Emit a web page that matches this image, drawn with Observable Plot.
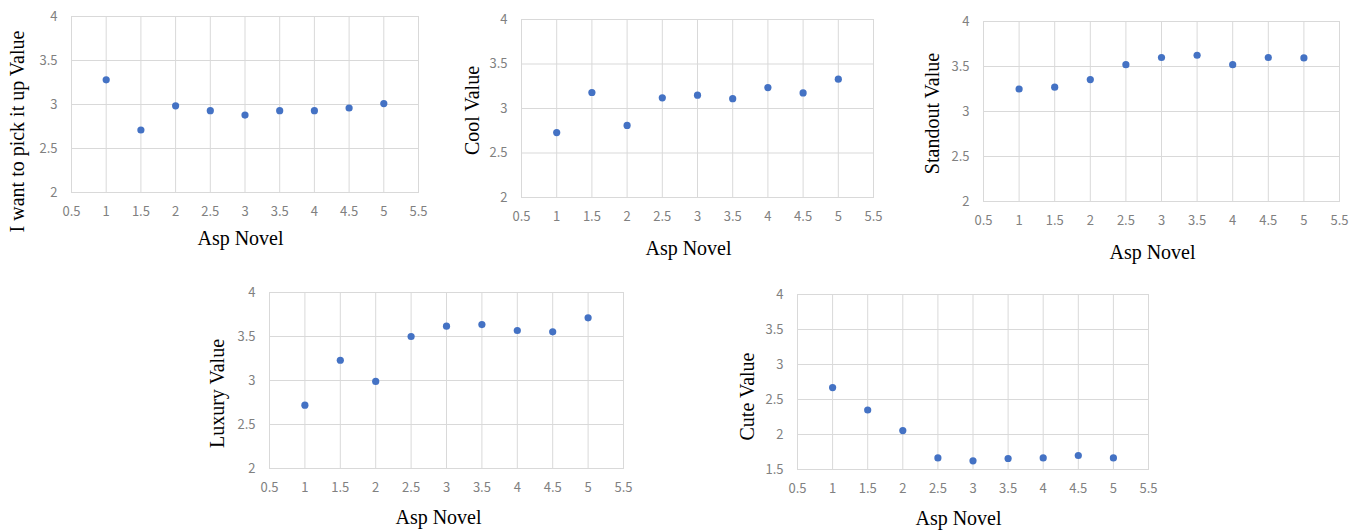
<!DOCTYPE html>
<html><head><meta charset="utf-8">
<script src="https://cdn.jsdelivr.net/npm/d3@7"></script>
<script src="https://cdn.jsdelivr.net/npm/@observablehq/plot@0.6"></script>
<style>
html,body{margin:0;padding:0;background:#fff;}
#page{position:relative;width:1367px;height:531px;overflow:hidden;background:#fff;}
.panel{position:absolute;}
</style></head><body><div id="page"></div>
<script>
// ---- data ----
const aspNovel = [1, 1.5, 2, 2.5, 3, 3.5, 4, 4.5, 5];
const pickUpValue = [3.28, 2.71, 2.985, 2.93, 2.88, 2.93, 2.93, 2.96, 3.01];
const coolValue = [2.73, 3.18, 2.81, 3.12, 3.15, 3.11, 3.235, 3.175, 3.33];
const standoutValue = [3.25, 3.27, 3.355, 3.52, 3.60, 3.625, 3.52, 3.60, 3.595];
const luxuryValue = [2.72, 3.23, 2.99, 3.50, 3.617, 3.636, 3.568, 3.553, 3.712];
const cuteValue = [2.67, 2.35, 2.056, 1.666, 1.624, 1.657, 1.666, 1.70, 1.666];

const xTicks = [0.5, 1, 1.5, 2, 2.5, 3, 3.5, 4, 4.5, 5, 5.5];
const yTicksMain = [2, 2.5, 3, 3.5, 4];
const yTicksCute = [1.5, 2, 2.5, 3, 3.5, 4];
const xTitle = "Asp Novel";
const yTitles = ["I want to pick it up Value", "Cool Value", "Standout Value", "Luxury Value", "Cute Value"];
const seriesList = [pickUpValue, coolValue, standoutValue, luxuryValue, cuteValue];
const yTickList = [yTicksMain, yTicksMain, yTicksMain, yTicksMain, yTicksCute];

// ---- layout (frame: left, top, right, bottom; title centres) ----
const layout = [
  {frame: [71, 16, 418, 192], yTitleAt: [17, 131], xTitleAt: [240, 238]},
  {frame: [521, 19, 873, 197], yTitleAt: [472, 110], xTitleAt: [688, 248]},
  {frame: [983, 21, 1339, 201], yTitleAt: [932, 113], xTitleAt: [1152, 252]},
  {frame: [269, 292, 623, 468], yTitleAt: [217, 393], xTitleAt: [438, 517]},
  {frame: [797, 294, 1148, 469], yTitleAt: [747, 396], xTitleAt: [958, 518]}
];

const page = document.getElementById("page");
const serif = "'Liberation Serif', 'Times New Roman', serif";
const gridColor = "#d9d9d9";

layout.forEach((L, i) => {
  const [fl, ft, fr, fb] = L.frame;
  const yTicks = yTickList[i];
  const left = L.yTitleAt[0] - 16;
  const top = ft - 12;
  const right = fr + 22;
  const bottom = Math.min(531, L.xTitleAt[1] + 13);
  const data = aspNovel.map((x, j) => ({x, y: seriesList[i][j]}));
  const chart = Plot.plot({
    width: right - left,
    height: bottom - top,
    marginLeft: fl - left,
    marginRight: right - fr,
    marginTop: ft - top,
    marginBottom: bottom - fb,
    x: {domain: [0.5, 5.5]},
    y: {domain: [yTicks[0], 4]},
    style: {background: "transparent", fontFamily: "'Noto Sans CJK JP', 'Noto Sans', sans-serif", fontSize: "13px", color: "#808080", overflow: "visible"},
    marks: [
      Plot.gridX(xTicks, {stroke: gridColor, strokeOpacity: 1, strokeWidth: 1}),
      Plot.gridY(yTicks, {stroke: gridColor, strokeOpacity: 1, strokeWidth: 1}),
      Plot.frame({stroke: gridColor, strokeWidth: 1}),
      Plot.axisX(xTicks, {tickSize: 0, tickPadding: 14, label: null, tickFormat: d => String(d)}),
      Plot.axisY(yTicks, {tickSize: 0, tickPadding: 14, label: null, tickFormat: d => String(d)}),
      Plot.dot(data, {x: "x", y: "y", r: 3.6, fill: "#4472C4"}),
      Plot.text([xTitle], {text: d => d, frameAnchor: "bottom", dx: L.xTitleAt[0] - (fl + fr) / 2, dy: L.xTitleAt[1] - fb, lineAnchor: "middle", fontFamily: serif, fontSize: 20, fill: "#000"}),
      Plot.text([yTitles[i]], {text: d => d, frameAnchor: "left", dx: L.yTitleAt[0] - fl, dy: L.yTitleAt[1] - (ft + fb) / 2, rotate: -90, lineAnchor: "middle", textAnchor: "middle", fontFamily: serif, fontSize: 20, fill: "#000"})
    ]
  });
  chart.classList.add("panel");
  chart.style.left = left + "px";
  chart.style.top = top + "px";
  page.appendChild(chart);
});
</script>
</body></html>
